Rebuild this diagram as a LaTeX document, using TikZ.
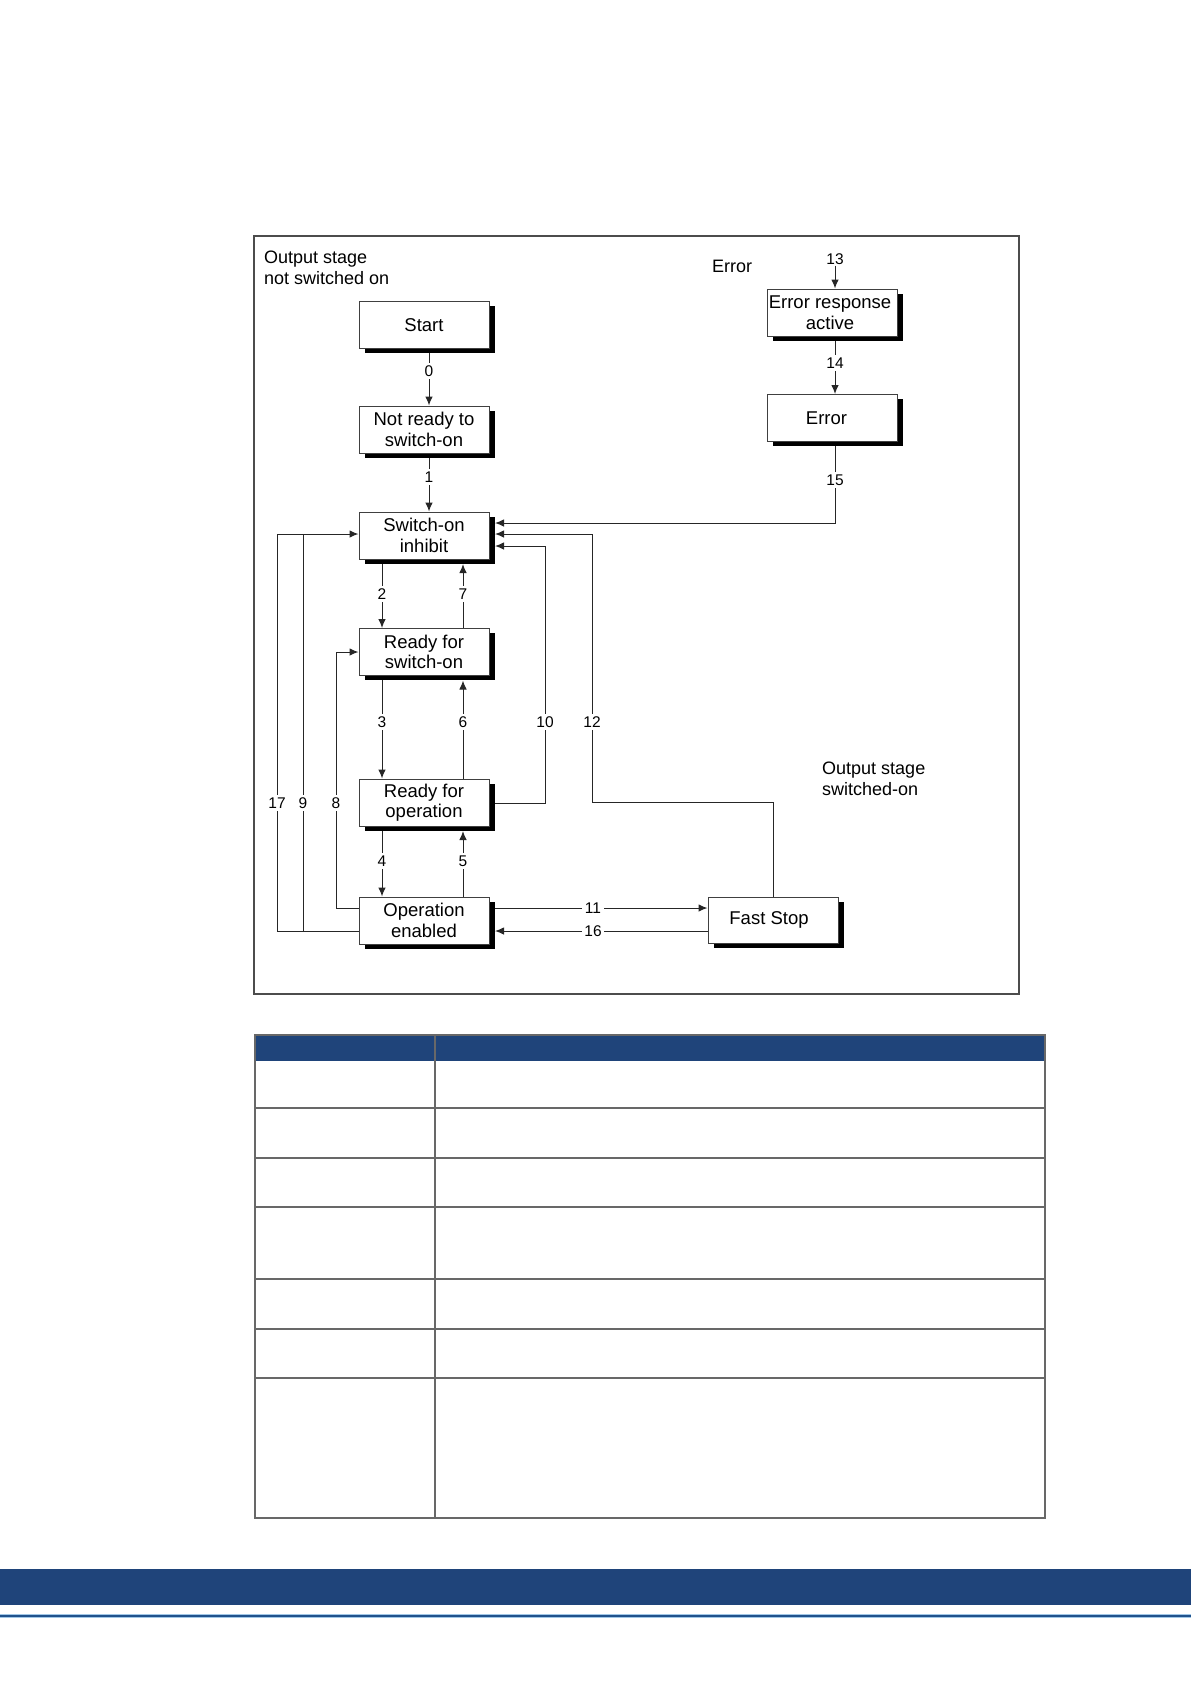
\documentclass[tikz,border=0pt]{standalone}
\usepackage{fontspec}
\setmainfont{Liberation Sans}
\usetikzlibrary{arrows.meta,shadows,backgrounds}
\definecolor{hdrblue}{RGB}{31,68,122}
\definecolor{tblgray}{RGB}{104,104,104}
\definecolor{linelight}{RGB}{160,198,230}
\definecolor{linedark}{RGB}{32,82,140}
\tikzset{
  state/.style={draw=black!75, line width=1pt, fill=white, minimum width=130pt,
    minimum height=47pt, align=center, inner sep=0pt,
    font=\fontsize{18.5}{20.5}\selectfont,
    general shadow={fill=black, shadow xshift=5.5pt, shadow yshift=-4.5pt}},
  conn/.style={draw=black!85, line width=1pt},
  arr/.style={conn, -{Latex[length=9pt,width=7.5pt]}},
  num/.style={fill=white, inner sep=2.5pt, font=\fontsize{15.5}{17}\selectfont},
  lbl/.style={align=left, anchor=base west, inner sep=0pt, font=\fontsize{18}{21}\selectfont},
}
\begin{document}
\begin{tikzpicture}[x=1pt,y=-1pt]
\useasboundingbox (0,0) rectangle (1191,1684);

% frame of the diagram
\draw[draw=black!70, line width=1.2pt] (254,236) rectangle (1019,994);

% region labels (anchor = baseline of last line)
\node[lbl] (tNot) at (264,284) {Output stage\\not switched on};
\node[lbl] (tErr) at (712,272) {Error};
\node[lbl] (tOn) at (822,795) {Output stage\\switched-on};

% states
\node[state] (start) at (424,325) {Start};
\node[state] (nrs) at (424,429.5) {Not ready to\\switch-on};
\node[state] (soi) at (424,535.5) {Switch-on\\inhibit};
\node[state] (rfs) at (424,652) {Ready for\\switch-on};
\node[state] (rop) at (424,802.5) {Ready for\\operation};
\node[state] (oe) at (424,920.5) {Operation\\enabled};
\node[state] (era) at (832.5,312.5) {Error response\hspace*{5pt}\\active\hspace*{5pt}};
\node[state] (err) at (832.5,418) {Error\hspace*{12pt}};
\node[state, minimum height=46pt] (fs) at (773,920) {Fast Stop\hspace*{8pt}};

% transition numbers
\node[num] (n0) at (429,371) {0};
\node[num] (n1) at (429,477) {1};
\node[num] (n2) at (382,594) {2};
\node[num] (n7) at (463,594) {7};
\node[num] (n3) at (382,722) {3};
\node[num] (n6) at (463,722) {6};
\node[num] (n4) at (382,861) {4};
\node[num] (n5) at (463,861) {5};
\node[num] (n17) at (277,803) {17};
\node[num] (n9) at (303,803) {9};
\node[num] (n8) at (336,803) {8};
\node[num] (n10) at (545,722) {10};
\node[num] (n12) at (592,722) {12};
\node[num] (n11) at (593,908) {11};
\node[num] (n16) at (593,931) {16};
\node[num, inner sep=1pt] (n13) at (835,259) {13};
\node[num] (n14) at (835,363) {14};
\node[num] (n15) at (835,480) {15};

% bend points
\coordinate (k8a) at (336,908);
\coordinate (k8b) at (336,652);
\coordinate (k9a) at (303,931);
\coordinate (k9b) at (303,534);
\coordinate (k17a) at (277,931);
\coordinate (k17b) at (277,534);
\coordinate (k10a) at (545,803);
\coordinate (k10b) at (545,546);
\coordinate (k12a) at (773,802);
\coordinate (k12b) at (592,802);
\coordinate (k12c) at (592,534);
\coordinate (k15) at (835,523);
\coordinate (k11) at (600,908);
\coordinate (k16) at (600,931);

\begin{pgfonlayer}{background}
  \draw[arr] (start.south -| n0) -- (nrs.north -| n0);
  \draw[arr] (nrs.south -| n1) -- (soi.north -| n1);
  \draw[arr] (soi.south -| n2) -- (rfs.north -| n2);
  \draw[arr, shorten >=4.5pt] (rfs.north -| n7) -- (soi.south -| n7);
  \draw[arr] (rfs.south -| n3) -- (rop.north -| n3);
  \draw[arr, shorten >=4.5pt] (rop.north -| n6) -- (rfs.south -| n6);
  \draw[arr] (rop.south -| n4) -- (oe.north -| n4);
  \draw[arr, shorten >=4.5pt] (oe.north -| n5) -- (rop.south -| n5);
  \draw[arr] (oe.west |- k8a) -- (k8a) -- (k8b) -- (rfs.west |- k8b);
  \draw[arr] (oe.west |- k9a) -- (k9a) -- (k9b) -- (soi.west |- k9b);
  \draw[conn] (k9a) -- (k17a) -- (k17b) -- (k9b);
  \draw[arr, shorten >=5.5pt] (rop.east |- k10a) -- (k10a) -- (k10b) -- (soi.east |- k10b);
  \draw[arr, shorten >=5.5pt] (fs.north) -- (k12a) -- (k12b) -- (k12c) -- (soi.east |- k12c);
  \draw[arr, shorten >=5.5pt] (err.south -| k15) -- (k15) -- (soi.east |- k15);
  \draw[arr] (oe.east |- k11) -- (fs.west |- k11);
  \draw[arr, shorten >=5.5pt] (fs.west |- k16) -- (oe.east |- k16);
  \draw[arr] (n13.south) -- (n13.south |- era.north);
  \draw[arr] (era.south -| n14) -- (err.north -| n14);
\end{pgfonlayer}

% table
\fill[hdrblue] (255,1035) rectangle (1045,1061);
\foreach \yy in {1108,1158,1207,1279,1329,1378}
  \draw[tblgray, line width=2.2pt] (255,\yy) -- (1045,\yy);
\draw[tblgray, line width=2.2pt] (435,1035) -- (435,1518);
\draw[tblgray, line width=2.2pt] (255,1035) rectangle (1045,1518);

% footer bar
\fill[hdrblue] (0,1569) rectangle (1191,1605);
\fill[linelight] (0,1613.5) rectangle (1191,1618);
\fill[linedark] (0,1614.5) rectangle (1191,1617);
\end{tikzpicture}
\end{document}
